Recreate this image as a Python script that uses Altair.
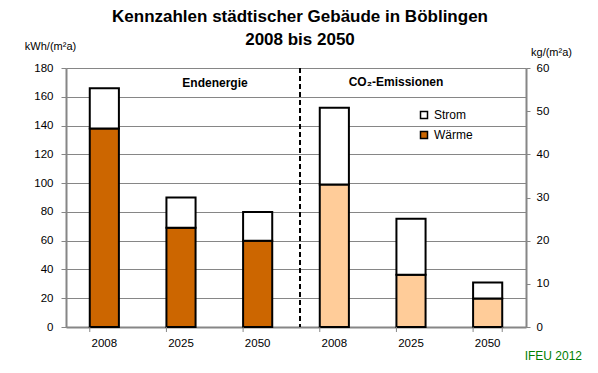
import altair as alt
import pandas as pd

# ---- data ----
jahre = ["2008", "2025", "2050"]
endenergie_waerme = [138, 69, 60]      # kWh/(m²a)
endenergie_strom = [28, 21, 20]
co2_waerme = [33.0, 12.1, 6.6]         # kg/(m²a)
co2_strom = [17.8, 13.0, 3.7]
teile = ["Strom", "Wärme"]
links_ticks = list(range(0, 181, 20))
rechts_ticks = list(range(0, 61, 10))
titel = ["Kennzahlen städtischer Gebäude in Böblingen", "2008 bis 2050"]
gruppen_labels = ["Endenergie", "CO₂-Emissionen"]
quelle = ["IFEU 2012"]

FONT = "Liberation Sans"
GRAU = "#868686"


def frame(prefix, waerme, strom):
    rows = []
    for j, w, s in zip(jahre, waerme, strom):
        rows.append({"key": f"{prefix}|{j}", "Teil": "Wärme", "ord": 0, "wert": w})
        rows.append({"key": f"{prefix}|{j}", "Teil": "Strom", "ord": 1, "wert": s})
    return pd.DataFrame(rows)


df_e = frame("E", endenergie_waerme, endenergie_strom)
df_c = frame("C", co2_waerme, co2_strom)
keys = [f"E|{j}" for j in jahre] + [f"C|{j}" for j in jahre]

x_scale = alt.Scale(domain=keys, paddingInner=0.62, paddingOuter=0.31)
x_axis = alt.Axis(
    title=None, labelExpr="split(datum.label, '|')[1]", ticks=False, tickSize=0,
    labelPadding=10, domainColor=GRAU, domainWidth=2, labelFont=FONT,
    labelFontSize=11.5, labelColor="black", labelAngle=0, grid=False,
)


def xenc(bp=None):
    if bp is None:
        return alt.X("key:N", scale=x_scale, axis=x_axis)
    return alt.X("key:N", scale=x_scale, axis=x_axis, bandPosition=bp)


bars_e = alt.Chart(df_e).mark_bar(stroke="black", strokeWidth=2).encode(
    x=xenc(),
    y=alt.Y(
        "wert:Q", stack="zero",
        scale=alt.Scale(domain=[0, 180], nice=False),
        axis=alt.Axis(
            orient="left", values=links_ticks, title="kWh/(m²a)", titleAngle=0,
            titleX=-16, titleY=-19, titleAlign="center", titleBaseline="alphabetic",
            titleFont=FONT, titleFontSize=11, titleFontWeight="normal", titleColor="black",
            labelFont=FONT, labelFontSize=11.5, labelColor="black", labelPadding=8,
            tickSize=5, tickColor=GRAU, tickWidth=1, domainColor=GRAU, domainWidth=2,
            grid=True, gridColor=GRAU, gridWidth=1,
        ),
    ),
    color=alt.Color(
        "Teil:N",
        scale=alt.Scale(domain=teile, range=["white", "#CC6600"]),
        legend=alt.Legend(
            title=None, orient="none", legendX=352, legendY=41, symbolType="square",
            symbolSize=49, symbolStrokeColor="black", symbolStrokeWidth=1.5,
            labelFont=FONT, labelFontSize=12, labelColor="black", labelOffset=4,
            rowPadding=6, padding=0, direction="vertical",
        ),
    ),
    order=alt.Order("ord:Q", sort="ascending"),
)

bars_c = alt.Chart(df_c).mark_bar(stroke="black", strokeWidth=2).encode(
    x=xenc(),
    y=alt.Y(
        "wert:Q", stack="zero",
        scale=alt.Scale(domain=[0, 60], nice=False),
        axis=alt.Axis(
            orient="right", values=rechts_ticks, title="kg/(m²a)", titleAngle=0,
            titleX=25, titleY=-13, titleAlign="center", titleBaseline="alphabetic",
            titleFont=FONT, titleFontSize=11, titleFontWeight="normal", titleColor="black",
            labelFont=FONT, labelFontSize=11.5, labelColor="black", labelPadding=6,
            tickSize=4, tickColor=GRAU, tickWidth=1, domainColor=GRAU, domainWidth=2,
            grid=False,
        ),
    ),
    color=alt.condition(alt.datum.Teil == "Wärme", alt.value("#FFCC99"), alt.value("white")),
    order=alt.Order("ord:Q", sort="ascending"),
)

xticks = alt.Chart(pd.DataFrame({"key": keys})).mark_rule(color=GRAU, strokeWidth=1).encode(
    x=xenc(0), y=alt.value(259), y2=alt.value(264)
)
xtick_last = alt.Chart(pd.DataFrame({"key": keys[-1:]})).mark_rule(color=GRAU, strokeWidth=1).encode(
    x=xenc(1), y=alt.value(259), y2=alt.value(264)
)

trenner = alt.Chart(pd.DataFrame({"k": [0]})).mark_rule(
    color="black", strokeWidth=2, strokeDash=[5, 3]
).encode(x=alt.value(234))

label_e = alt.Chart(pd.DataFrame({"t": gruppen_labels[:1]})).mark_text(
    font=FONT, fontSize=12, fontWeight="bold", color="black", baseline="middle"
).encode(text="t:N", x=alt.value(149), y=alt.value(15))

label_c = alt.Chart(pd.DataFrame({"t": gruppen_labels[1:]})).mark_text(
    font=FONT, fontSize=12, fontWeight="bold", color="black", baseline="middle"
).encode(text="t:N", x=alt.value(330), y=alt.value(14))

footer = alt.Chart(pd.DataFrame({"t": quelle})).mark_text(
    font=FONT, fontSize=12, color="#008000", align="right", baseline="alphabetic"
).encode(text="t:N", x=alt.value(516), y=alt.value(292))

chart = alt.layer(
    bars_e, bars_c, xticks, xtick_last, trenner, label_e, label_c, footer
).resolve_scale(y="independent").properties(
    width=460, height=259,
    title=alt.TitleParams(
        text=titel, font=FONT, fontSize=17, fontWeight="bold", anchor="middle",
        lineHeight=23, dx=4, dy=13, color="black",
    ),
    padding={"left": 58, "top": 60, "right": 64, "bottom": 38},
    autosize=alt.AutoSizeParams(type="none"),
).configure_view(stroke=None).configure(background="white")

chart.save("out.html", embed_options={"renderer": "svg", "actions": False})
